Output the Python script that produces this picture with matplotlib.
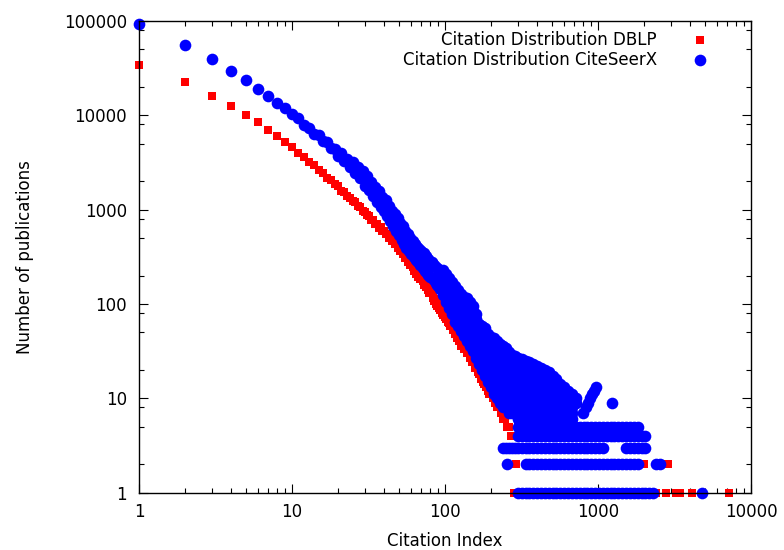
import numpy as np
import matplotlib
matplotlib.use("Agg")
import matplotlib.pyplot as plt
from matplotlib.ticker import LogLocator, NullFormatter

# ---------------- DBLP (red squares) ----------------
dblp_x = [1, 2, 3, 4, 5, 6, 7, 8, 9, 10,
          11, 12, 13, 14, 15, 16, 17, 18, 19, 20,
          21, 22, 23, 24, 25, 26, 27, 28, 29, 30,
          31, 32, 33, 34, 35, 36, 37, 38, 39, 40,
          41, 42, 43, 44, 45, 46, 47, 48, 49, 50,
          51, 52, 53, 54, 55, 56, 57, 58, 59, 60,
          62, 63, 64, 65, 66, 67, 68, 69, 70, 72,
          73, 74, 75, 76, 77, 78, 79, 80, 82, 83,
          84, 85, 86, 87, 88, 89, 90, 91, 92, 93,
          94, 95, 96, 97, 98, 100, 102, 104, 106, 108,
          110, 112, 114, 116, 118, 120, 122, 124, 126, 128,
          130, 133, 136, 139, 142, 145, 148, 151, 154, 157,
          160, 164, 168, 172, 176, 180, 185, 190, 195, 200,
          205, 211, 218, 225, 232, 240, 248, 255, 262, 270, 278]
dblp_y = [34000, 22500, 16000, 12500, 10000, 8500, 7000, 6000, 5200, 4600,
          4000, 3650, 3200, 2980, 2650, 2470, 2180, 2060, 1850, 1760,
          1590, 1530, 1390, 1340, 1220, 1190, 1080, 1070, 970, 955,
          870, 860, 780, 780, 710, 710, 645, 650, 590, 600,
          550, 555, 505, 515, 470, 475, 430, 435, 395, 400,
          365, 360, 335, 335, 305, 310, 280, 285, 258, 262,
          245, 225, 230, 210, 215, 195, 200, 182, 188, 176,
          160, 166, 150, 157, 141, 148, 132, 138, 130, 116,
          122, 108, 114, 101, 107, 94, 100, 90, 95, 86,
          90, 80, 86, 76, 80, 72, 70, 64, 63, 58,
          59, 53, 54, 48, 50, 44, 47, 40, 44, 36,
          40, 33, 36, 30, 32, 27, 29, 24, 25, 21,
          22, 19, 18, 16, 15, 14, 13, 12, 11, 11,
          10, 9, 8, 8, 7, 6, 6, 5, 5, 4, 4]
# tail: citation indices that have only a few publications
dblp_row1_x = [282, 320, 400, 500, 650, 800, 1000, 1300, 1700, 2100, 2400,
               2800, 3250, 3450, 4100, 7200]
dblp_row2_x = [292, 350, 450, 600, 800, 1100, 1240, 1500, 2000, 2860]
dblp_row3_x = [285, 330, 420, 560, 700, 900]
dblp_row4_x = [310, 380, 500, 600]
dblp_row5_x = [300, 400]
dblp_row6_x = [690]

# ---------------- CiteSeerX (blue dots) ----------------
cs_x = [1, 2, 3, 4, 5, 6, 7, 8, 9, 10,
        11, 12, 13, 14, 15, 16, 17, 18, 19, 20,
        21, 22, 23, 24, 25, 26, 27, 28, 29, 30,
        31, 32, 33, 34, 35, 36, 37, 38, 39, 40,
        41, 42, 43, 44, 45, 46, 47, 48, 49, 50,
        51, 52, 53, 54, 55, 56, 57, 58, 59, 60,
        62, 63, 64, 65, 66, 67, 68, 69, 70, 72,
        73, 74, 75, 76, 77, 78, 79, 80, 82, 83,
        84, 85, 86, 87, 88, 89, 90, 91, 92, 93,
        94, 95, 96]
cs_y = [93000, 55600, 39500, 29500, 23700, 19000, 16000, 13500, 11900, 10300,
        9300, 7900, 7400, 6400, 6200, 5300, 5150, 4450, 4400, 3700,
        3950, 3250, 3450, 2800, 3200, 2450, 2850, 2150, 2550, 1800,
        2250, 1600, 1950, 1400, 1720, 1200, 1560, 1060, 1360, 960,
        1250, 850, 1080, 750, 970, 670, 900, 600, 810, 540,
        730, 480, 670, 435, 600, 395, 545, 365, 500, 340,
        470, 315, 430, 290, 405, 280, 385, 260, 365, 240,
        345, 225, 325, 215, 300, 205, 285, 195, 275, 188,
        262, 178, 250, 168, 240, 158, 232, 152, 222, 145,
        215, 140, 205]
# widely scattered counts between 97 and ~300 citations
cs_col_x = [97, 102, 106, 111, 116, 121, 127, 133, 139, 145, 152, 159, 167,
            175, 183, 191, 200, 209, 219, 229, 240, 251, 263, 275, 288]
cs_col_y = [[125, 150, 180, 210, 230],
            [105, 125, 150, 180, 210],
            [90, 110, 135, 165, 190],
            [78, 95, 115, 140, 170],
            [65, 80, 98, 120, 140, 156],
            [58, 70, 85, 104, 125, 142],
            [52, 63, 77, 94, 112, 128],
            [46, 56, 68, 82, 100, 118],
            [40, 49, 60, 73, 88, 106, 115],
            [36, 44, 53, 65, 78, 94, 104],
            [32, 39, 48, 58, 70, 85, 95],
            [27, 33, 40, 49, 59, 70, 78],
            [23, 28, 34, 42, 51, 61],
            [20, 24, 29, 36, 44, 53, 58],
            [17, 21, 26, 32, 39, 47, 55],
            [15, 18, 22, 27, 33, 40, 48],
            [13, 16, 20, 24, 29, 35, 42, 45],
            [11, 14, 17, 21, 26, 32, 38, 43],
            [10, 12, 15, 18, 22, 27, 33, 40],
            [9, 11, 13, 16, 20, 24, 29, 34, 38],
            [3, 8, 10, 12, 15, 18, 22, 27, 32, 36],
            [3, 8, 10, 12, 14, 17, 21, 25, 30, 34],
            [3, 7, 9, 11, 13, 16, 19, 23, 28, 31],
            [3, 7, 8, 10, 12, 14, 17, 20, 24, 29],
            [3, 7, 8, 10, 12, 14, 17, 20, 24, 28]]
# citation indices 300..2300 (rows of small counts)
cs_grid_x = [300, 318, 336, 356, 377, 400, 424, 449, 476, 505, 535, 567, 601,
             637, 675, 716, 759, 804, 852, 903, 957, 1015, 1076, 1140, 1209,
             1281, 1358, 1440, 1526, 1618, 1715, 1818, 1927, 2042, 2165, 2295]
cs_upper_x = [300, 318, 336, 356, 377, 400, 424, 449, 476, 505, 535, 567,
              601, 637, 675, 716]
cs_upper_y = [[6, 7, 8, 9, 10, 11, 12, 14, 16, 18, 20, 23, 27],
              [6, 7, 8, 9, 10, 11, 12, 14, 16, 18, 20, 23, 26],
              [6, 7, 8, 9, 10, 11, 12, 14, 16, 18, 21, 25],
              [6, 7, 8, 9, 10, 11, 12, 14, 16, 18, 21, 24],
              [6, 7, 8, 9, 10, 11, 12, 14, 16, 18, 20, 23],
              [6, 7, 8, 9, 10, 11, 12, 14, 16, 19, 22],
              [6, 7, 8, 9, 10, 11, 12, 14, 16, 18, 21],
              [6, 7, 8, 9, 10, 11, 12, 14, 17, 20],
              [6, 7, 8, 9, 10, 11, 12, 14, 16, 19],
              [6, 7, 8, 9, 10, 11, 12, 14, 17],
              [6, 7, 8, 9, 10, 11, 12, 14, 16],
              [6, 7, 8, 9, 10, 11, 12, 14],
              [6, 7, 8, 9, 10, 11, 13],
              [6, 7, 8, 9, 10, 12],
              [6, 7, 8, 9, 10, 11],
              [9, 10]]
cs_spike_x = [800, 830, 860, 890, 920, 945, 970, 1240]
cs_spike_y = [7, 8, 9, 10, 11, 12, 13, 9]
cs_row1_x = cs_grid_x + [4760]
cs_row2_x = [253] + [x for x in cs_grid_x if 336 <= x <= 1818] + [2400, 2550]
cs_row3_x = [x for x in cs_grid_x if x <= 1076 or 1526 <= x <= 2042]
cs_row4_x = [x for x in cs_grid_x if x <= 2042]
cs_row5_x = [x for x in cs_grid_x if x <= 1818]

x_ticks = [1, 10, 100, 1000, 10000]
y_ticks = [1, 10, 100, 1000, 10000, 100000]

# ---------------- assemble ----------------
rx, ry = list(dblp_x), list(dblp_y)
for yv, xs in [(1, dblp_row1_x), (2, dblp_row2_x), (3, dblp_row3_x),
               (4, dblp_row4_x), (5, dblp_row5_x), (6, dblp_row6_x)]:
    rx += xs
    ry += [yv] * len(xs)

bx, by = list(cs_x), list(cs_y)
for xv, ys in zip(cs_col_x + cs_upper_x, cs_col_y + cs_upper_y):
    bx += [xv] * len(ys)
    by += ys
bx += cs_spike_x
by += cs_spike_y
for yv, xs in [(1, cs_row1_x), (2, cs_row2_x), (3, cs_row3_x),
               (4, cs_row4_x), (5, cs_row5_x)]:
    bx += xs
    by += [yv] * len(xs)

plt.rcParams['font.family'] = ['DejaVu Sans']
plt.rcParams['font.size'] = 12

fig = plt.figure(figsize=(7.84, 5.5), dpi=100)
ax = fig.add_axes([0.1773, 0.1045, 0.7806, 0.8573])

ax.plot(rx, ry, ls='none', marker='s', ms=5.8, mfc='#ff0000', mec='#ff0000',
        mew=0, clip_on=False, label='Citation Distribution DBLP')
ax.plot(bx, by, ls='none', marker='o', ms=8.4, mfc='#0000ff', mec='#0000ff',
        mew=0, clip_on=False, label='Citation Distribution CiteSeerX')

ax.set_xscale('log')
ax.set_yscale('log')
ax.set_xlim(1, 10000)
ax.set_ylim(1, 100000)
ax.set_xticks(x_ticks, labels=[str(t) for t in x_ticks])
ax.set_yticks(y_ticks, labels=[str(t) for t in y_ticks])
ax.xaxis.set_minor_locator(LogLocator(base=10, subs=np.arange(2, 10), numticks=20))
ax.yaxis.set_minor_locator(LogLocator(base=10, subs=(2, 5, 8), numticks=20))
ax.xaxis.set_minor_formatter(NullFormatter())
ax.yaxis.set_minor_formatter(NullFormatter())
ax.tick_params(which='both', direction='in', top=True, right=True,
               width=0.8, colors='black')
ax.tick_params(which='major', length=6.5)
ax.tick_params(which='minor', length=3.3)
ax.tick_params(axis='x', which='major', pad=7.5)
ax.tick_params(axis='y', which='major', pad=8.5)
for s in ax.spines.values():
    s.set_linewidth(1.0)

ax.set_xlabel('Citation Index')
ax.set_ylabel('Number of publications')
ax.xaxis.set_label_coords(0.5, -0.084)
ax.yaxis.set_label_coords(-0.172, 0.5)

ax.legend(loc='upper right', bbox_to_anchor=(0.944, 0.978), frameon=False,
          markerfirst=False, handlelength=2.0, handletextpad=1.6,
          labelspacing=0.12, borderpad=0, borderaxespad=0, fontsize=12)

fig.savefig('out.png', dpi=100)
